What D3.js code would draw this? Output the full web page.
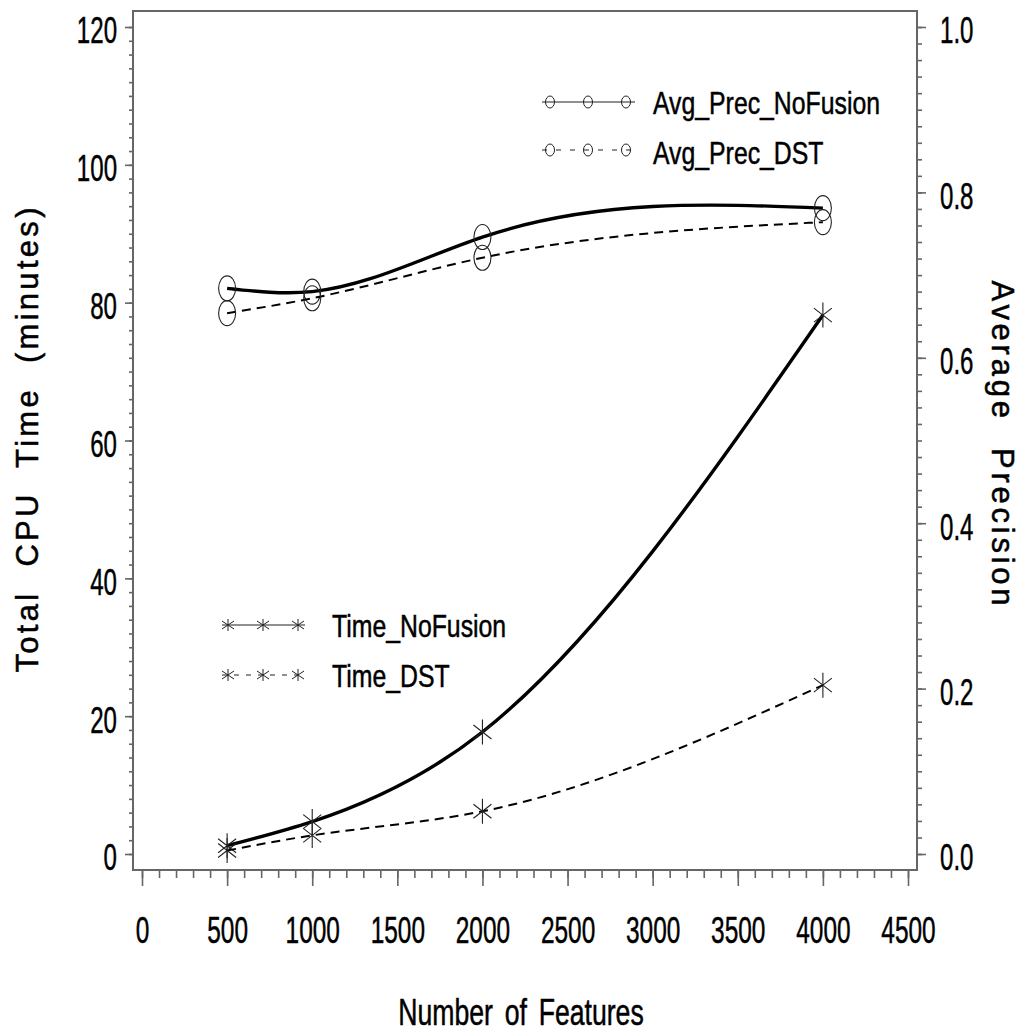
<!DOCTYPE html>
<html>
<head>
<meta charset="utf-8">
<script src="https://cdn.jsdelivr.net/npm/d3@7"></script>
<style>
  body { margin: 0; background: #fff; }
  text { font-family: "Liberation Sans", Arial, sans-serif; fill: #000; stroke: #000; stroke-width: 0.5px; }
</style>
</head>
<body>
<svg id="chart" width="1029" height="1034"></svg>
<script>
// values
const features = [500, 1000, 2000, 4000];
const timeNoFusion = [1.2, 4.7, 17.7, 78.2];
const timeDST = [0.5, 2.7, 6.2, 24.5];
const precNoFusion = [0.684, 0.680, 0.746, 0.781];
const precDST = [0.654, 0.672, 0.721, 0.764];

const xTicks = [0, 500, 1000, 1500, 2000, 2500, 3000, 3500, 4000, 4500];
const yTicks = [0, 20, 40, 60, 80, 100, 120];
const y2Ticks = [0, 0.2, 0.4, 0.6, 0.8, 1.0];

const svg = d3.select('#chart');
svg.append('rect').attr('width', 1029).attr('height', 1034).attr('fill', '#fff');

const frame = { left: 133, right: 917, top: 11, bottom: 870 };
const x = d3.scaleLinear().domain([0, 4500]).range([142, 908]);
const y = d3.scaleLinear().domain([0, 120]).range([854, 27]);
const y2 = d3.scaleLinear().domain([0, 1]).range([854, 27]);

const axisColor = '#666';

// squeeze text horizontally to mimic the narrow font
function squeeze(sel, k) {
    sel.each(function() {
        const w = this.getComputedTextLength();
        d3.select(this).attr('textLength', w * k).attr('lengthAdjust', 'spacingAndGlyphs');
    });
}

function styleAxis(g) {
    g.select('.domain').remove();
    g.selectAll('line').attr('stroke', axisColor).attr('stroke-width', 1.6);
}

// minor ticks
svg.append('g').attr('transform', `translate(${frame.left},0)`)
    .call(d3.axisLeft(y).tickValues(d3.range(0, 121, 2)).tickSize(4).tickFormat(''))
    .call(styleAxis);
svg.append('g').attr('transform', `translate(${frame.right},0)`)
    .call(d3.axisRight(y2).tickValues(d3.range(0, 51).map(i => i / 50)).tickSize(5).tickFormat(''))
    .call(styleAxis);
svg.append('g').attr('transform', `translate(0,${frame.bottom})`)
    .call(d3.axisBottom(x).tickValues(d3.range(0, 4501, 100)).tickSize(8).tickFormat(''))
    .call(styleAxis);

// major ticks with labels
const yAxis = svg.append('g').attr('transform', `translate(${frame.left},0)`)
    .call(d3.axisLeft(y).tickValues(yTicks).tickSize(8).tickPadding(8).tickFormat(d3.format('d')))
    .call(styleAxis);
yAxis.selectAll('text').attr('font-size', 37).attr('dy', '0.43em').call(squeeze, 0.65);

const y2Axis = svg.append('g').attr('transform', `translate(${frame.right},0)`)
    .call(d3.axisRight(y2).tickValues(y2Ticks).tickSize(9).tickPadding(14).tickFormat(d3.format('.1f')))
    .call(styleAxis);
y2Axis.selectAll('text').attr('font-size', 37).attr('dy', '0.43em').call(squeeze, 0.65);

const xAxis = svg.append('g').attr('transform', `translate(0,${frame.bottom})`)
    .call(d3.axisBottom(x).tickValues(xTicks).tickSize(16).tickFormat(d3.format('d')))
    .call(styleAxis);
xAxis.selectAll('text').attr('font-size', 37).attr('y', 73).attr('dy', 0).call(squeeze, 0.66);

// frame
svg.append('rect')
    .attr('x', frame.left).attr('y', frame.top)
    .attr('width', frame.right - frame.left).attr('height', frame.bottom - frame.top)
    .attr('fill', 'none').attr('stroke', axisColor).attr('stroke-width', 2);

// axis titles
svg.append('text')
    .attr('transform', 'translate(38,440) rotate(-90)')
    .attr('text-anchor', 'middle')
    .attr('font-size', 31)
    .attr('word-spacing', 12)
    .attr('textLength', 465).attr('lengthAdjust', 'spacing')
    .text('Total CPU Time (minutes)');

svg.append('text')
    .attr('transform', 'translate(992,443) rotate(90)')
    .attr('text-anchor', 'middle')
    .attr('font-size', 31)
    .attr('word-spacing', 14)
    .attr('textLength', 325).attr('lengthAdjust', 'spacing')
    .text('Average Precision');

svg.append('text')
    .attr('x', 521).attr('y', 1025)
    .attr('text-anchor', 'middle')
    .attr('font-size', 37)
    .attr('word-spacing', 6)
    .text('Number of Features')
    .call(squeeze, 0.72);

// natural cubic spline of y as a function of x
function splineX(context) {
    let xs = [], ys = [];
    return {
        areaStart() {}, areaEnd() {},
        lineStart() { xs = []; ys = []; },
        point(px, py) { xs.push(+px); ys.push(+py); },
        lineEnd() {
            const n = xs.length;
            if (!n) return;
            context.moveTo(xs[0], ys[0]);
            if (n < 3) { if (n === 2) context.lineTo(xs[1], ys[1]); return; }
            const h = d3.range(n - 1).map(i => xs[i + 1] - xs[i]);
            const M = new Array(n).fill(0);
            // Thomas algorithm for interior second derivatives
            const cp = [], dp = [];
            for (let i = 1; i < n - 1; i++) {
                const a = h[i - 1], b = 2 * (h[i - 1] + h[i]), c = h[i];
                const d = 6 * ((ys[i + 1] - ys[i]) / h[i] - (ys[i] - ys[i - 1]) / h[i - 1]);
                const k = i - 1;
                const denom = b - (k > 0 ? a * cp[k - 1] : 0);
                cp[k] = c / denom;
                dp[k] = (d - (k > 0 ? a * dp[k - 1] : 0)) / denom;
            }
            for (let k = n - 3; k >= 0; k--) {
                M[k + 1] = dp[k] - (k < n - 3 ? cp[k] * M[k + 2] : 0);
            }
            const m = [];
            for (let i = 0; i < n - 1; i++) {
                m[i] = (ys[i + 1] - ys[i]) / h[i] - h[i] * (2 * M[i] + M[i + 1]) / 6;
            }
            m[n - 1] = (ys[n - 1] - ys[n - 2]) / h[n - 2] + h[n - 2] * (M[n - 2] + 2 * M[n - 1]) / 6;
            for (let i = 0; i < n - 1; i++) {
                const t = h[i] / 3;
                context.bezierCurveTo(xs[i] + t, ys[i] + m[i] * t,
                    xs[i + 1] - t, ys[i + 1] - m[i + 1] * t, xs[i + 1], ys[i + 1]);
            }
        }
    };
}

const series = [
    { vals: timeNoFusion, scale: y, dash: null, width: 3.4, marker: 'star' },
    { vals: timeDST, scale: y, dash: '9,6', width: 2, marker: 'star' },
    { vals: precNoFusion, scale: y2, dash: null, width: 3.4, marker: 'circle' },
    { vals: precDST, scale: y2, dash: '9,6', width: 2, marker: 'circle' }
];

function starPath(vy, dx, dy) {
    return `M0,${-vy}V${vy}M${-dx},${-dy}L${dx},${dy}M${-dx},${dy}L${dx},${-dy}`;
}

series.forEach(s => {
    const pts = features.map((f, i) => [x(f), s.scale(s.vals[i])]);
    svg.append('path')
        .attr('d', d3.line().curve(splineX)(pts))
        .attr('fill', 'none')
        .attr('stroke', '#000')
        .attr('stroke-width', s.width)
        .attr('stroke-dasharray', s.dash);
    const g = svg.append('g');
    pts.forEach(p => {
        if (s.marker === 'star') {
            g.append('path').attr('transform', `translate(${p[0]},${p[1]})`)
                .attr('d', starPath(12.5, 9, 7))
                .attr('fill', 'none').attr('stroke', '#222').attr('stroke-width', 1.1);
        } else {
            g.append('ellipse').attr('cx', p[0]).attr('cy', p[1])
                .attr('rx', 8.5).attr('ry', 12.5)
                .attr('fill', 'none').attr('stroke', '#222').attr('stroke-width', 1.1);
        }
    });
});

// legends
const legendRows = [
    { label: 'Avg_Prec_NoFusion', marker: 'circle', dash: null, x0: 542, xs: [550, 588, 626], x1: 635, y: 102, tx: 653, ty: 114 },
    { label: 'Avg_Prec_DST', marker: 'circle', dash: '5,9', x0: 542, xs: [550, 588, 626], x1: 635, y: 150, tx: 653, ty: 164 },
    { label: 'Time_NoFusion', marker: 'star', dash: null, x0: 222, xs: [228, 263, 298], x1: 305, y: 625, tx: 332, ty: 637 },
    { label: 'Time_DST', marker: 'star', dash: '5,7', x0: 222, xs: [228, 263, 298], x1: 305, y: 675, tx: 332, ty: 687 }
];

legendRows.forEach(r => {
    const g = svg.append('g');
    g.append('line')
        .attr('x1', r.x0).attr('x2', r.x1).attr('y1', r.y).attr('y2', r.y)
        .attr('stroke', '#222').attr('stroke-width', 1.1)
        .attr('stroke-dasharray', r.dash);
    r.xs.forEach(px => {
        if (r.marker === 'star') {
            g.append('path').attr('transform', `translate(${px},${r.y})`)
                .attr('d', starPath(6, 6, 4))
                .attr('fill', 'none').attr('stroke', '#222').attr('stroke-width', 1);
        } else {
            g.append('ellipse').attr('cx', px).attr('cy', r.y)
                .attr('rx', 4.5).attr('ry', 6)
                .attr('fill', 'none').attr('stroke', '#222').attr('stroke-width', 1);
        }
    });
    g.append('text')
        .attr('x', r.tx).attr('y', r.ty)
        .attr('font-size', 32)
        .text(r.label)
        .call(squeeze, 0.775);
});
</script>
</body>
</html>
